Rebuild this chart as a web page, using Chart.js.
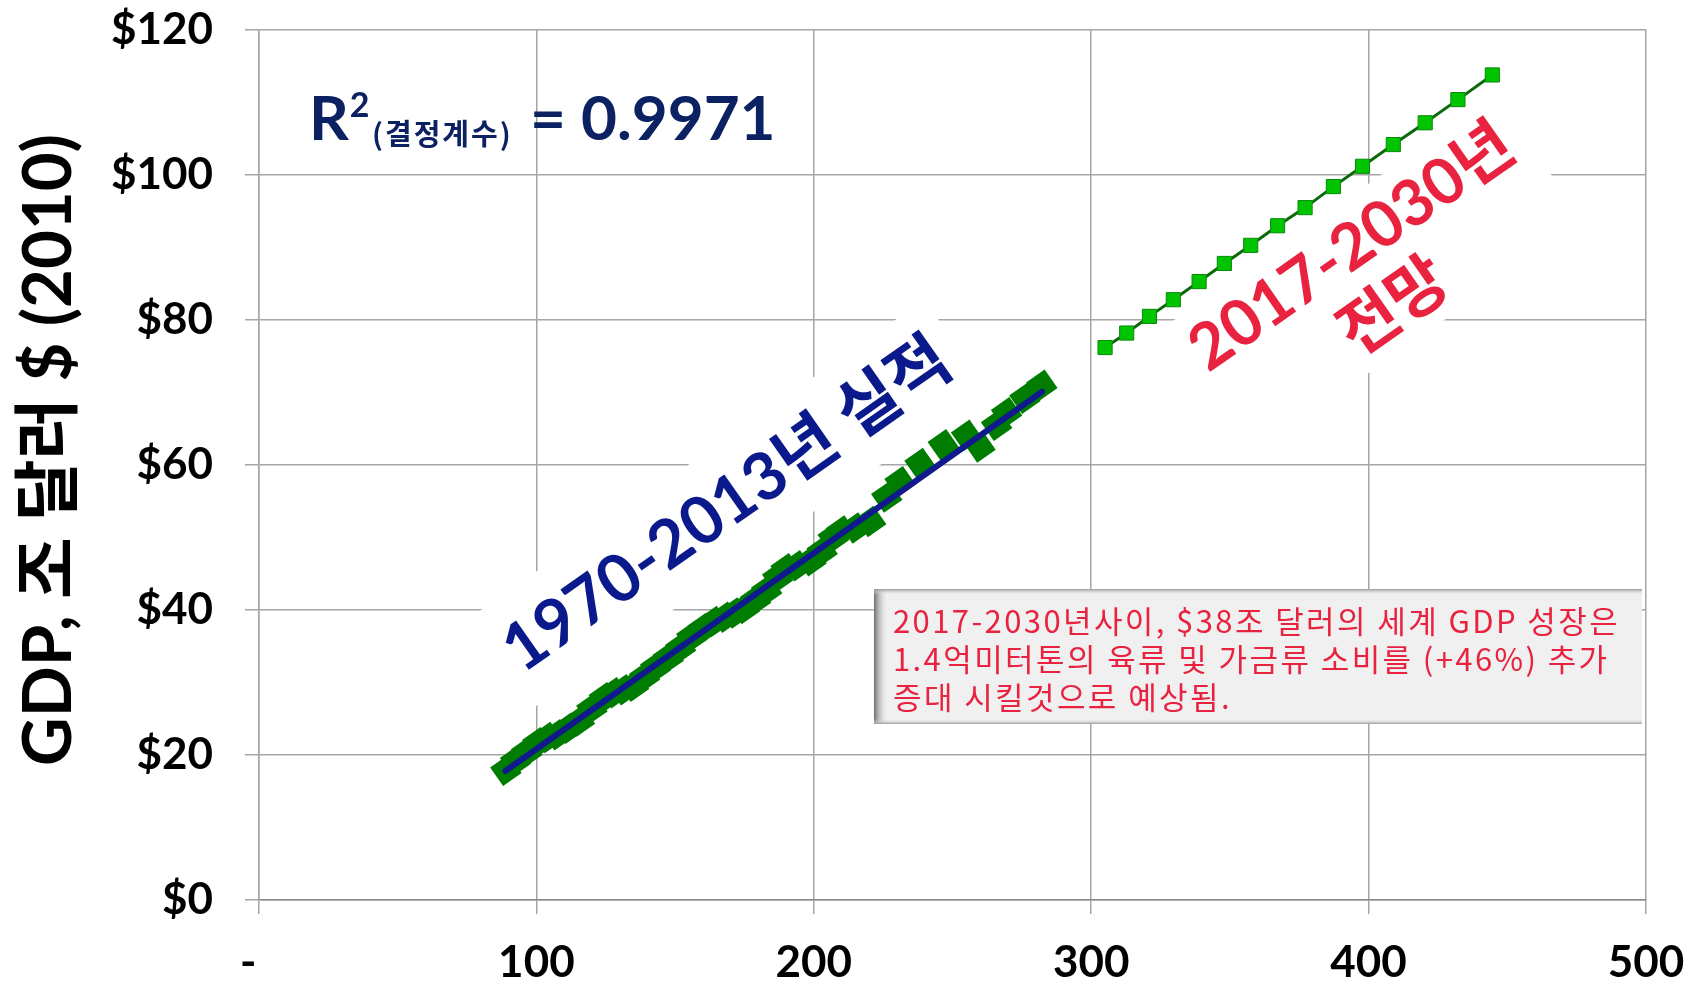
<!DOCTYPE html>
<html>
<head>
<meta charset="utf-8">
<script src="https://cdn.jsdelivr.net/npm/chart.js@4.4.1/dist/chart.umd.min.js"></script>
<style>
  html, body { margin: 0; padding: 0; background: #ffffff; }
  #wrap { width: 1702px; height: 985px; position: relative; }
</style>
</head>
<body>
<div id="wrap"><canvas id="chart"></canvas></div>
<script>
// 1970-2013 actuals (x axis value, GDP trillion $)
const histX = [89, 92.5, 96.5, 100.5, 104, 107.5, 111.5, 115.5, 120, 124.5, 128, 131.5, 135, 139, 143,
  147.5, 152, 156, 160, 164, 168, 171.5, 175, 179, 183, 187, 190, 194, 199, 203, 207, 210, 215, 220.5,
  226.3, 231.1, 238.3, 246.7, 255.1, 259.9, 265.9, 269.5, 276.1, 282.2];
const histY = [17.9, 19.2, 20.4, 21.7, 22.4, 22.8, 23.7, 24.7, 26.4, 27.9, 28.6, 29.0, 29.5, 30.8, 32.1,
  33.4, 34.8, 36.3, 37.4, 38.4, 39.0, 39.6, 40.2, 41.4, 42.7, 44.5, 45.7, 46.1, 46.8, 48.1, 50.0, 50.9, 51.3, 52.2,
  55.6, 57.7, 60.2, 62.8, 64.1, 62.5, 65.5, 67.2, 69.2, 71.0];

// trend line end points
const trendX = [88.8, 282.3];
const trendY = [17.8, 70.1];

// 2017-2030 projection
const projX = [305.0, 312.8, 321.0, 329.6, 338.9, 348.0, 357.5, 367.2, 377.1, 387.3, 397.8, 408.9, 420.4, 432.2, 444.6];
const projY = [76.2, 78.2, 80.5, 82.8, 85.3, 87.8, 90.3, 93.0, 95.5, 98.4, 101.2, 104.2, 107.2, 110.4, 113.8];

const xTicks = [0, 100, 200, 300, 400, 500];
const yTicks = [0, 20, 40, 60, 80, 100, 120];

const yTitle = 'GDP, 조 달러 $ (2010)';
const actualLabel = '1970-2013년 실적';
const projLabel = ['2017-2030년', '전망'];
const noteLines = [
  '2017-2030년사이, $38조 달러의 세계 GDP 성장은',
  '1.4억미터톤의 육류 및 가금류 소비를 (+46%) 추가',
  '증대 시킬것으로 예상됨.'
];

const FONT = "Lato, 'Noto Sans CJK KR', sans-serif";
const KFONT = "'Noto Sans CJK KR', sans-serif";

const toPts = (xs, ys) => xs.map((x, i) => ({ x: x, y: ys[i] }));

// white boxes behind rotated labels (hide gridlines like the original text boxes)
function rotatedBox(ctx, cx, cy, w, h, angle) {
  ctx.save();
  ctx.translate(cx, cy);
  ctx.rotate(angle);
  ctx.fillStyle = '#ffffff';
  ctx.fillRect(-w / 2, -h / 2, w, h);
  ctx.restore();
}

const ANG = -35 * Math.PI / 180;

const annotations = {
  id: 'annotations',
  beforeDatasetsDraw(chart) {
    const ctx = chart.ctx;
    ctx.save();
    ctx.font = 'bold 66px ' + FONT;
    const w1 = ctx.measureText(actualLabel).width;
    rotatedBox(ctx, 727, 505, w1 + 30, 110, ANG);
    ctx.font = 'bold 64px ' + FONT;
    const w2 = ctx.measureText(projLabel[0]).width;
    rotatedBox(ctx, 1372, 276, w2 + 30, 155, ANG);
    ctx.restore();
  },
  afterDraw(chart) {
    const ctx = chart.ctx;
    ctx.save();

    // y axis title
    ctx.save();
    ctx.translate(49, 450);
    ctx.rotate(-Math.PI / 2);
    ctx.font = 'bold 67px ' + FONT;
    ctx.fillStyle = '#000000';
    ctx.textAlign = 'center';
    ctx.textBaseline = 'middle';
    ctx.fillText(yTitle, 0, 0);
    ctx.restore();

    // R squared
    ctx.fillStyle = '#0b2161';
    ctx.textBaseline = 'alphabetic';
    ctx.textAlign = 'left';
    let x = 309;
    ctx.font = 'bold 62px ' + FONT;
    ctx.fillText('R', x, 140);
    x += ctx.measureText('R').width + 1;
    ctx.font = 'bold 34px ' + FONT;
    ctx.fillText('2', x, 117);
    ctx.font = 'bold 29px ' + KFONT;
    ctx.letterSpacing = '2px';
    ctx.fillText('(결정계수)', 372, 145);
    ctx.letterSpacing = '0px';
    ctx.font = 'bold 62px ' + FONT;
    ctx.fillText('= 0.9971', 530, 140);

    // rotated label for actuals
    ctx.save();
    ctx.translate(727, 505);
    ctx.rotate(ANG);
    ctx.font = 'bold 66px ' + FONT;
    ctx.fillStyle = '#0a1a8c';
    ctx.textAlign = 'center';
    ctx.textBaseline = 'middle';
    ctx.fillText(actualLabel, 0, 0);
    ctx.restore();

    // rotated label for projection
    ctx.save();
    ctx.translate(1372, 276);
    ctx.rotate(ANG);
    ctx.font = 'bold 64px ' + FONT;
    ctx.fillStyle = '#e8223f';
    ctx.textAlign = 'center';
    ctx.textBaseline = 'middle';
    ctx.fillText(projLabel[0], 0, -35);
    ctx.fillText(projLabel[1], 0, 38);
    ctx.restore();

    // note box
    const bx = 874, by = 589, bw = 768, bh = 135;
    ctx.fillStyle = '#f0f0f0';
    ctx.fillRect(bx, by, bw, bh);
    const g = ctx.createLinearGradient(bx, 0, bx + 14, 0);
    g.addColorStop(0, '#6e6e6e');
    g.addColorStop(1, 'rgba(240,240,240,0)');
    ctx.fillStyle = g;
    ctx.fillRect(bx, by, 14, bh);
    const g2 = ctx.createLinearGradient(0, by, 0, by + 6);
    g2.addColorStop(0, '#9a9a9a');
    g2.addColorStop(1, 'rgba(240,240,240,0)');
    ctx.fillStyle = g2;
    ctx.fillRect(bx, by, bw, 6);
    const g3 = ctx.createLinearGradient(0, by + bh - 5, 0, by + bh);
    g3.addColorStop(0, 'rgba(240,240,240,0)');
    g3.addColorStop(1, '#a0a0a0');
    ctx.fillStyle = g3;
    ctx.fillRect(bx, by + bh - 5, bw, 5);
    ctx.fillStyle = '#e8223f';
    ctx.font = '31px ' + KFONT;
    ctx.textBaseline = 'middle';
    ctx.textAlign = 'left';
    // spread letters so the first line spans the box like the original
    const w0 = ctx.measureText(noteLines[0]).width;
    const spacing = Math.max(0, (727 - w0) / noteLines[0].length);
    ctx.letterSpacing = spacing.toFixed(2) + 'px';
    noteLines.forEach((t, i) => ctx.fillText(t, 893, 621 + i * 38));

    ctx.restore();
  }
};

const gridStyle = { color: '#a6a6a6', lineWidth: 1.5, tickLength: 14, tickColor: '#a6a6a6' };

new Chart(document.getElementById('chart'), {
  type: 'scatter',
  data: {
    datasets: [
      {
        type: 'line',
        label: 'trend',
        data: toPts(trendX, trendY),
        borderColor: '#101a8c',
        borderWidth: 6,
        borderCapStyle: 'round',
        pointRadius: 0,
        order: 0
      },
      {
        label: '1970-2013',
        data: toPts(histX, histY),
        pointStyle: 'rect',
        rotation: 55,
        pointRadius: 16,
        backgroundColor: '#007d00',
        borderWidth: 0,
        order: 1
      },
      {
        type: 'line',
        label: '2017-2030',
        data: toPts(projX, projY),
        borderColor: '#0a6a0a',
        borderWidth: 3,
        pointStyle: 'rect',
        pointRadius: 10,
        pointBackgroundColor: '#00c400',
        pointBorderColor: '#078a07',
        pointBorderWidth: 1,
        order: 2
      }
    ]
  },
  options: {
    responsive: true,
    maintainAspectRatio: false,
    animation: false,
    events: [],
    layout: { padding: { top: 30, right: 56, left: 0, bottom: 0 } },
    plugins: { legend: { display: false }, tooltip: { enabled: false } },
    scales: {
      x: {
        type: 'linear',
        min: 0,
        max: 500,
        afterBuildTicks: s => { s.ticks = xTicks.map(v => ({ value: v })); },
        afterFit: s => { s.height = 85; s.paddingLeft = 0; s.paddingRight = 0; },
        ticks: {
          callback: v => (v === 0 ? '-  ' : v),
          color: '#000000',
          font: { family: FONT, size: 44, weight: 'bold' },
          padding: 22,
          maxRotation: 0
        },
        grid: gridStyle,
        border: { color: '#8c8c8c', width: 1.5 }
      },
      y: {
        min: 0,
        max: 120,
        afterBuildTicks: s => { s.ticks = yTicks.map(v => ({ value: v })); },
        afterFit: s => { s.width = 259; s.paddingTop = 0; s.paddingBottom = 0; },
        ticks: {
          callback: v => '$' + v,
          color: '#000000',
          font: { family: FONT, size: 44, weight: 'bold' },
          padding: 32
        },
        grid: gridStyle,
        border: { color: '#a6a6a6', width: 1.5 }
      }
    }
  },
  plugins: [annotations]
});
</script>
</body>
</html>
